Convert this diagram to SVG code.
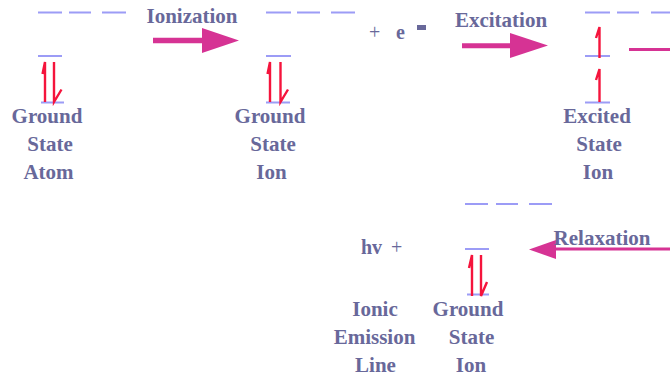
<svg xmlns="http://www.w3.org/2000/svg" width="670" height="378" viewBox="0 0 670 378">
<style>
.lvl{stroke:#9c9cf6;stroke-width:2.2;fill:none}
.spin{stroke:#f5143c;stroke-width:2.4;fill:none;stroke-linecap:butt;stroke-linejoin:miter}
.t{font-family:"Liberation Serif","Times New Roman",serif;font-weight:bold;font-size:21px;fill:#68689a;text-anchor:middle}
.n{font-family:"Liberation Serif","Times New Roman",serif;font-size:20px;fill:#68689a}
.shaft{stroke:#d63394;fill:none}
.head{fill:#d63394}
</style>
<rect width="670" height="378" fill="#ffffff"/>

<g id="atom-ground">
  <path class="lvl" d="M38 12.5H62M69 12.5H91M102 12.5H126M38 56H62M41 102.5H64"/>
  <path class="spin" d="M45 102V62L42.5 74M54 62V102L61.5 89.5"/>
  <text class="t" x="47" y="122.5">Ground</text>
  <text class="t" x="50" y="150.5">State</text>
  <text class="t" x="48.5" y="178.5">Atom</text>
</g>

<g id="ion-ground">
  <path class="lvl" d="M266 12.5H291M297 12.5H320M331 12.5H355M266 56H291M266 102.5H290"/>
  <path class="spin" d="M270 102V62L267.5 74M280.5 62V102L288 89.5"/>
  <text class="t" x="270" y="122.5">Ground</text>
  <text class="t" x="273" y="150.5">State</text>
  <text class="t" x="271.5" y="178.5">Ion</text>
</g>

<g id="electron">
  <text class="n" x="369" y="38.5">+</text>
  <text class="n" x="396" y="38.5" font-weight="bold">e</text>
  <rect x="417" y="25" width="9" height="5" fill="#68689a"/>
</g>

<g id="ion-excited">
  <path class="lvl" d="M585 12.5H610M617 12.5H639M651 12.5H670M585 56H610M585 102.5H610"/>
  <path class="spin" d="M599.5 58V27L596 38M599.5 102V69L596 80"/>
  <text class="t" x="597" y="122.5">Excited</text>
  <text class="t" x="599" y="150.5">State</text>
  <text class="t" x="598" y="178.5">Ion</text>
</g>

<g id="ion-ground-relaxed">
  <path class="lvl" d="M465 204H488M496 204H518M529 204H552M465 249H489M467 294.5H489"/>
  <path class="spin" d="M472 296V255L469 268M481 255V296L487 282"/>
  <text class="t" x="468" y="315.5">Ground</text>
  <text class="t" x="471.5" y="343.5">State</text>
  <text class="t" x="471" y="372">Ion</text>
</g>

<g id="photon">
  <text class="n" x="361" y="253.5" font-weight="bold">hv</text>
  <text class="n" x="391" y="253.5">+</text>
  <text class="t" x="375" y="315.5">Ionic</text>
  <text class="t" x="374.5" y="343.5">Emission</text>
  <text class="t" x="375.5" y="372">Line</text>
</g>

<g id="connectors">
  <g id="ionization">
    <path class="shaft" stroke-width="5.5" d="M153 40.5H203"/>
    <polygon class="head" points="202,28 239,40.5 202,53"/>
    <text class="t" x="192" y="23">Ionization</text>
  </g>
  <g id="excitation">
    <path class="shaft" stroke-width="5" d="M462 45.8H511"/>
    <polygon class="head" points="510,33 548,45.5 510,58"/>
    <text class="t" x="501" y="26.5">Excitation</text>
  </g>
  <g id="relaxation">
    <path class="shaft" stroke-width="3" d="M670 49.5H629"/>
    <path class="shaft" stroke-width="3" d="M670 249H555"/>
    <polygon class="head" points="556,240 529,249.5 556,259"/>
    <text class="t" x="602" y="244.5">Relaxation</text>
  </g>
</g>
</svg>
